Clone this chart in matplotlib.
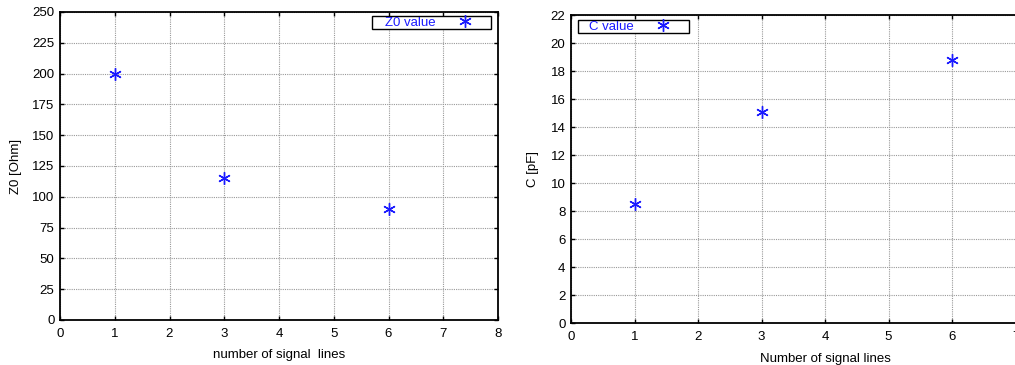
"""Z0 and C versus number of signal lines, two gnuplot-style panels."""

import matplotlib
matplotlib.use("Agg")
import matplotlib.pyplot as plt
from matplotlib.patches import Rectangle

lines = [1, 3, 6]
z0_values = [200, 115, 90]
c_values = [8.5, 15.1, 18.8]

x_ticks = list(range(0, 9))
z0_ticks = list(range(0, 251, 25))
c_ticks = list(range(0, 23, 2))

plt.rcParams["font.family"] = ["Liberation Sans", "DejaVu Sans"]
plt.rcParams["font.size"] = 9.5

W, H = 1015, 365
fig = plt.figure(figsize=(W / 100, H / 100), dpi=100)
blue = "#1a1aff"
star = (6, 2, 0)


def px_axes(left, top, right, bottom):
    return fig.add_axes([left / W, 1 - bottom / H, (right - left) / W, (bottom - top) / H])


def style(ax):
    ax.grid(True, color="#999999", linestyle=(0, (1, 1)), linewidth=0.8)
    ax.set_axisbelow(True)
    ax.tick_params(direction="in", top=True, right=True, length=3, width=1,
                   labelsize=9.5)
    ax.tick_params(axis="x", pad=6)
    ax.tick_params(axis="y", pad=4)
    for s in ax.spines.values():
        s.set_linewidth(1.3)


def key(ax, box, anchor):
    # gnuplot-style key: boxed label with the marker after the text
    x0, y0, x1, y1 = box
    ax.add_patch(Rectangle((x0, y0), x1 - x0, y1 - y0, transform=ax.transAxes,
                           facecolor="white", edgecolor="black", linewidth=1.0,
                           zorder=5))
    leg = ax.legend(loc="center left", bbox_to_anchor=anchor, markerfirst=False,
                    frameon=False, labelcolor=blue, handlelength=2.0,
                    handletextpad=1.2, borderpad=0, borderaxespad=0, fontsize=9.5)
    leg.set_zorder(6)


ax1 = px_axes(60, 12, 498, 320)
ax1.plot(lines, z0_values, linestyle="none", marker=star, markersize=9,
         color=blue, markeredgewidth=1.0, label="Z0 value")
ax1.set_xlim(0, 8)
ax1.set_ylim(0, 250)
ax1.set_xticks(x_ticks)
ax1.set_yticks(z0_ticks)
ax1.set_xlabel("number of signal  lines", labelpad=6)
ax1.set_ylabel("Z0 [Ohm]", labelpad=7)
style(ax1)
key(ax1, (0.712, 0.945, 0.984, 0.987), (0.742, 0.966))

# right panel runs off the edge of the figure, as in the original export
ax2 = px_axes(571, 15, 571 + 8 * 63.5, 323)
ax2.plot(lines, c_values, linestyle="none", marker=star, markersize=9,
         color=blue, markeredgewidth=1.0, label="C value")
ax2.set_xlim(0, 8)
ax2.set_ylim(0, 22)
ax2.set_xticks(x_ticks)
ax2.set_yticks(c_ticks)
ax2.set_xlabel("Number of signal lines", labelpad=7)
ax2.set_ylabel("C [pF]", labelpad=8)
style(ax2)
key(ax2, (0.0138, 0.942, 0.232, 0.984), (0.0354, 0.963))

fig.savefig("out.png", dpi=100)
